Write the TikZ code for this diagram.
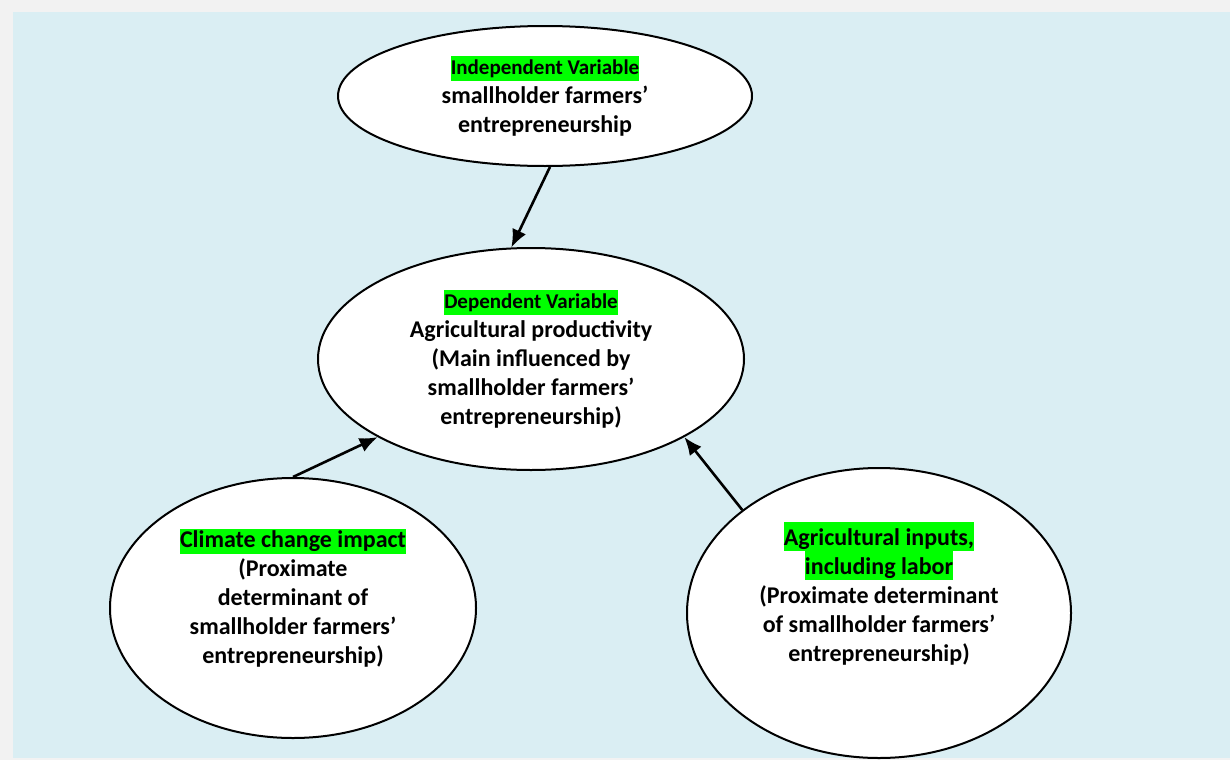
\documentclass[tikz,border=0pt]{standalone}
\usepackage{fontspec}
\setmainfont{Carlito}
\usetikzlibrary{arrows.meta,positioning,shapes.geometric}
\definecolor{panel}{HTML}{DAEEF3}
\definecolor{frame}{HTML}{F2F2F2}
\definecolor{marker}{HTML}{00FF00}
% green text marker, optional height above the baseline
\newcommand{\hilite}[2][9.5pt]{{\setlength{\fboxsep}{0pt}\colorbox{marker}{\rule[-3pt]{0pt}{\dimexpr#1+3pt\relax}#2}}}
\newcommand{\varlabel}[1]{\hilite{\fontsize{10.5}{12}\selectfont #1}}

\begin{document}
\begin{tikzpicture}[
  x=0.5pt, y=-0.5pt,
  var/.style={ellipse, draw=black, fill=white, line width=1pt, inner sep=0pt, align=center,
    font=\bfseries\fontsize{12}{14.5}\selectfont},
  link/.style={-{Latex[length=9pt,width=7.5pt]}, line width=1.3pt, draw=black}
]
\useasboundingbox (0,0) rectangle (1230,760);
\fill[frame] (0,0) rectangle (1230,760);
\fill[panel] (13,12) rectangle (1230,758);

\node[var, minimum width=213pt, minimum height=111pt] (dep) at (531,359)
  {\varlabel{Dependent Variable}\\Agricultural productivity\\(Main influenced by\\smallholder farmers'\\entrepreneurship)};
\node[var, minimum width=207pt, minimum height=70pt, above=40pt of dep, xshift=7pt] (indep)
  {\varlabel{Independent Variable}\\smallholder farmers'\\entrepreneurship};
\node[var, minimum width=183pt, minimum height=130pt] (climate) at (293,608)
  {\hilite{Climate change impact}\\(Proximate\\determinant of\\smallholder farmers'\\entrepreneurship)\\[-2.5pt]\mbox{}};
\node[var, minimum width=192pt, minimum height=145pt] (inputs) at (879,613)
  {\hilite[11.5pt]{Agricultural inputs,}\\\hilite[11.5pt]{including labor}\\(Proximate determinant\\of smallholder farmers'\\entrepreneurship)\\[7pt]\mbox{}};

\draw[link] (indep.-86) -- (dep.100);
\draw[link] (climate.90) -- (dep.207.6);
\draw[link] (inputs.143.9) -- (dep.-27.2);
\end{tikzpicture}
\end{document}
